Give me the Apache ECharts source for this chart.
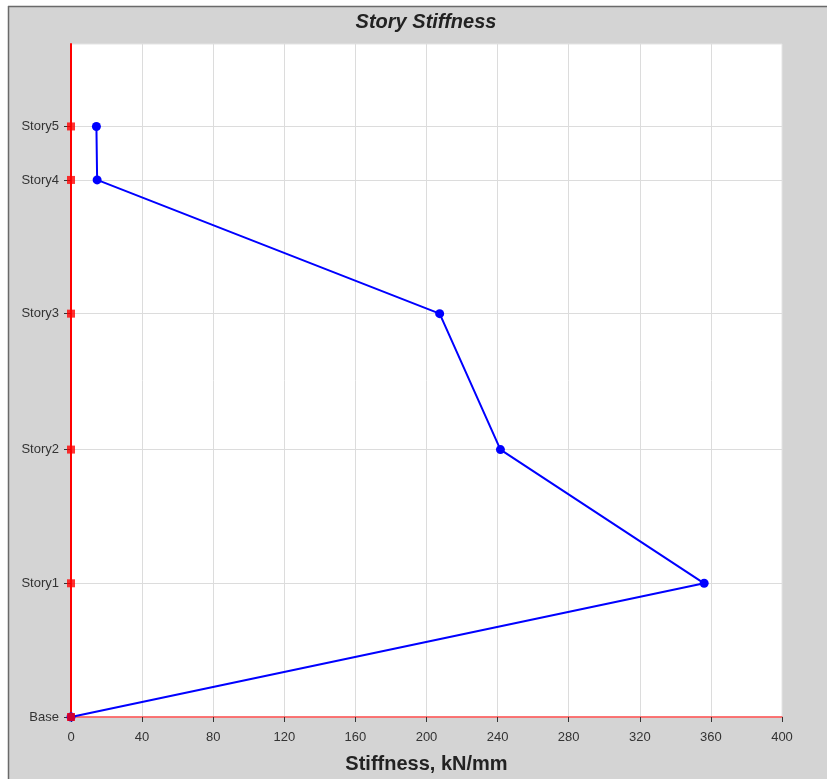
<!DOCTYPE html>
<html>
<head>
<meta charset="utf-8">
<style>
  html, body { margin: 0; padding: 0; background: #fff; }
  #chart { width: 827px; height: 779px; }
</style>
<script src="https://cdn.jsdelivr.net/npm/echarts@6/dist/echarts.min.js"></script>
</head>
<body>
<div id="chart"></div>
<script>
// 楼层刚度
var stories = ['Base', 'Story1', 'Story2', 'Story3', 'Story4', 'Story5'];
var elevations = [0, 3, 6, 9.05, 12.05, 13.25];
var stiffness = [0, 356.2, 241.6, 207.4, 14.7, 14.3];

var myChart = echarts.init(document.getElementById('chart'));

var linePts = [], tickPts = [];
for (var i = 0; i < stories.length; i++) {
  linePts.push([stiffness[i], elevations[i]]);
  tickPts.push([0, elevations[i]]);
}

var font = 'Arial, "Liberation Sans", sans-serif';

var option = {
  animation: false,
  backgroundColor: '#fff',
  graphic: [
    { type: 'rect', z: -10, shape: { x: 8, y: 6, width: 819, height: 773 }, style: { fill: '#d4d4d4' } },
    { type: 'line', z: -9, shape: { x1: 8, y1: 6.5, x2: 827, y2: 6.5 }, style: { stroke: '#6a6a6a', lineWidth: 1.5 } },
    { type: 'line', z: -9, shape: { x1: 8.5, y1: 6, x2: 8.5, y2: 779 }, style: { stroke: '#6a6a6a', lineWidth: 1.5 } },
    { type: 'text', x: 426, y: 22, style: { text: 'Story Stiffness', font: 'italic bold 20px ' + font, fill: '#222', textAlign: 'center', textVerticalAlign: 'middle' } }
  ],
  grid: { left: 71, right: 45, top: 44, bottom: 62, outerBoundsMode: 'none', containLabel: false, show: true, backgroundColor: '#fff', borderColor: '#e4e4e4', borderWidth: 1 },
  xAxis: {
    type: 'value', min: 0, max: 400, interval: 40,
    name: 'Stiffness, kN/mm', nameLocation: 'middle', nameGap: 37,
    nameTextStyle: { fontSize: 20, fontWeight: 'bold', color: '#222', fontFamily: font },
    axisLine: { lineStyle: { color: '#ff4d4d', width: 1.5 } },
    axisTick: { show: true, length: 5, lineStyle: { color: '#333' } },
    axisLabel: { margin: 14, fontSize: 13, color: '#333', fontFamily: font },
    splitLine: { show: true, lineStyle: { color: '#dcdcdc', width: 1 } }
  },
  yAxis: {
    type: 'value', min: 0, max: 15.1,
    axisLine: { onZero: false, lineStyle: { color: '#ff0000', width: 2 } },
    axisTick: { show: true, length: 7, customValues: elevations, lineStyle: { color: '#333' } },
    axisLabel: {
      customValues: elevations, margin: 12, fontSize: 13, color: '#333', fontFamily: font,
      formatter: function (v) {
        var k = elevations.indexOf(v);
        return k >= 0 ? stories[k] : '';
      }
    },
    splitLine: { show: true, lineStyle: { color: '#dcdcdc', width: 1 } }
  },
  series: [
    {
      type: 'line', data: linePts, symbol: 'circle', symbolSize: 9,
      lineStyle: { color: '#0000ff', width: 2 }, itemStyle: { color: '#0000ff' }, z: 3
    },
    {
      type: 'scatter', data: tickPts, symbol: 'rect', symbolSize: 8,
      itemStyle: { color: '#ff0000' }, z: 4
    }
  ]
};

myChart.setOption(option);
window.onresize = myChart.resize;
</script>
</body>
</html>
